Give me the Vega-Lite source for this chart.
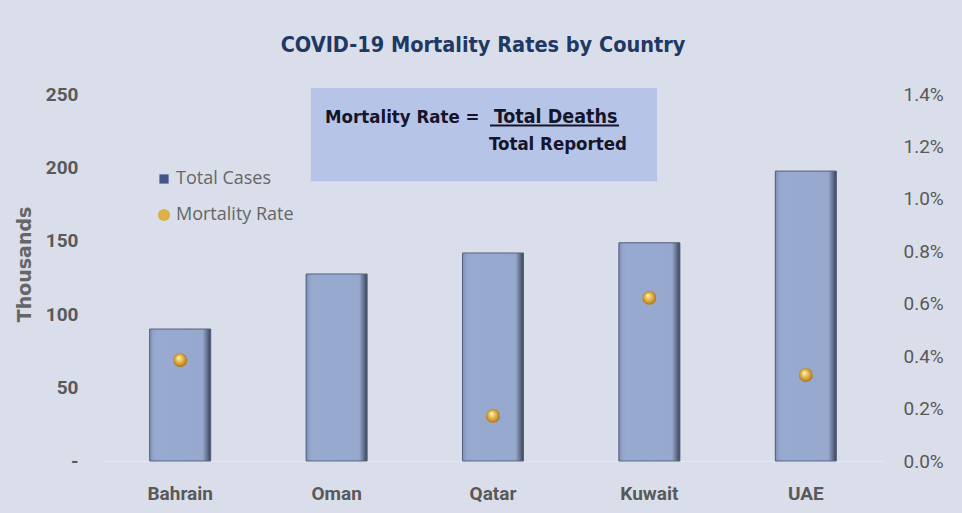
{
  "$schema": "https://vega.github.io/schema/vega-lite/v6.json",
  "width": 782,
  "height": 367,
  "autosize": {"type": "none"},
  "padding": {"left": 102, "top": 94, "right": 78, "bottom": 52},
  "background": "#d9deea",
  "title": {
    "text": "COVID-19 Mortality Rates by Country",
    "font": "DejaVu Sans Condensed, sans-serif",
    "fontSize": 21.5,
    "fontWeight": "bold",
    "color": "#1f3864",
    "anchor": "middle",
    "frame": "group",
    "offset": 29,
    "dx": -10
  },
  "config": {
    "view": {"stroke": null},
    "axis": {"grid": false, "ticks": false, "domain": false}
  },
  "layer": [
    {
      "data": {
        "values": [
          {"country": "Bahrain", "cases": 89900, "rate": 0.00385},
          {"country": "Oman", "cases": 127400, "rate": null},
          {"country": "Qatar", "cases": 141700, "rate": 0.00172},
          {"country": "Kuwait", "cases": 148600, "rate": 0.00622},
          {"country": "UAE", "cases": 197500, "rate": 0.00328}
        ]
      },
      "encoding": {
        "x": {
          "field": "country",
          "type": "nominal",
          "sort": null,
          "scale": {"paddingInner": 0.61, "paddingOuter": 0.305},
          "axis": {
            "title": null,
            "labelAngle": 0,
            "labelFont": "Roboto",
            "labelFontSize": 19,
            "labelFontWeight": "bold",
            "labelColor": "#595959",
            "labelPadding": 23,
            "domain": true,
            "domainColor": "#e4e7ef",
            "domainWidth": 1
          }
        }
      },
      "layer": [
        {
          "encoding": {
            "y": {
              "field": "cases",
              "type": "quantitative",
              "scale": {"domain": [0, 250000]},
              "axis": {
                "values": [0, 50000, 100000, 150000, 200000, 250000],
                "labelExpr": "datum.value == 0 ? '-' : format(datum.value / 1000, 'd')",
                "labelFont": "Roboto",
                "labelFontSize": 19,
                "labelFontWeight": "bold",
                "labelColor": "#595959",
                "labelPadding": 24,
                "title": "Thousands",
                "titleFont": "DejaVu Sans",
                "titleFontSize": 19,
                "titleFontWeight": "bold",
                "titleColor": "#666666",
                "titleX": -78,
                "titleY": 170,
                "titleAngle": 270,
                "titleAlign": "center",
                "titleBaseline": "middle"
              }
            }
          },
          "layer": [
            {
              "mark": {"type": "bar"},
              "encoding": {
                "color": {
                  "datum": "Total Cases",
                  "scale": {"domain": ["Total Cases", "Mortality Rate"], "range": ["#42568a", "#ddb04a"]},
                  "legend": {
                    "title": null,
                    "orient": "none",
                    "legendX": 53,
                    "legendY": 76,
                    "direction": "vertical",
                    "padding": 0,
                    "labelFont": "Open Sans",
                    "labelFontSize": 18,
                    "labelColor": "#666666",
                    "labelOffset": 3,
                    "rowPadding": 18,
                    "symbolStrokeWidth": 0,
                    "encode": {
                      "symbols": {
                        "update": {
                          "shape": {"signal": "datum.value === 'Total Cases' ? 'square' : 'circle'"},
                          "size": {"signal": "datum.value === 'Total Cases' ? 85 : 150"},
                          "fill": {"signal": "datum.value === 'Total Cases' ? '#42568a' : '#ddb04a'"},
                          "opacity": {"value": 1},
                          "strokeWidth": {"value": 0}
                        }
                      }
                    }
                  }
                }
              }
            },
            {
              "mark": {
                "type": "bar",
                "fill": {
                  "gradient": "linear",
                  "x1": 0, "y1": 0, "x2": 1, "y2": 0,
                  "stops": [
                    {"offset": 0, "color": "#7c8db3"},
                    {"offset": 0.06, "color": "#93a5ca"},
                    {"offset": 0.12, "color": "#98aacf"},
                    {"offset": 0.87, "color": "#96a8cd"},
                    {"offset": 0.93, "color": "#6e7b98"},
                    {"offset": 1, "color": "#39435a"}
                  ]
                },
                "stroke": "#56627d",
                "strokeWidth": 1
              }
            }
          ]
        },
        {
          "encoding": {
            "y": {
              "field": "rate",
              "type": "quantitative",
              "scale": {"domain": [0, 0.014]},
              "axis": {
                "orient": "right",
                "title": null,
                "values": [0, 0.002, 0.004, 0.006, 0.008, 0.01, 0.012, 0.014],
                "format": ".1%",
                "labelFont": "Roboto",
                "labelFontSize": 19,
                "labelColor": "#595959",
                "labelPadding": 19
              }
            }
          },
          "layer": [
            {
              "mark": {"type": "point", "filled": true, "shape": "circle", "size": 190, "opacity": 1},
              "encoding": {"color": {"datum": "Mortality Rate"}}
            },
            {
              "mark": {
                "type": "point",
                "filled": true,
                "shape": "circle",
                "size": 190,
                "opacity": 1,
                "fill": {
                  "gradient": "radial",
                  "x1": 0.38, "y1": 0.32, "r1": 0,
                  "x2": 0.5, "y2": 0.5, "r2": 0.55,
                  "stops": [
                    {"offset": 0, "color": "#fff8d8"},
                    {"offset": 0.3, "color": "#f2cf6a"},
                    {"offset": 0.75, "color": "#c8922e"},
                    {"offset": 1, "color": "#8a6220"}
                  ]
                }
              }
            }
          ]
        }
      ],
      "resolve": {"scale": {"y": "independent"}}
    },
    {
      "data": {"values": [{"label": "formula"}]},
      "layer": [
        {
          "mark": {"type": "rect", "color": "#b6c4e7"},
          "encoding": {
            "x": {"datum": 1.336, "type": "quantitative", "scale": {"domain": [0, 5]}, "axis": null},
            "x2": {"datum": 3.549},
            "y": {"datum": 264.3, "type": "quantitative", "scale": {"domain": [0, 250]}, "axis": null},
            "y2": {"datum": 198.2}
          }
        },
        {
          "mark": {"type": "rule", "color": "#15152a", "strokeWidth": 2},
          "encoding": {
            "x": {"datum": 2.481, "type": "quantitative"},
            "x2": {"datum": 3.306},
            "y": {"datum": 237.7, "type": "quantitative"}
          }
        },
        {
          "mark": {"type": "text", "text": "Mortality Rate =", "align": "left", "baseline": "alphabetic", "font": "DejaVu Sans Condensed, sans-serif", "fontSize": 18.5, "fontWeight": "bold", "color": "#15152a"},
          "encoding": {
            "x": {"datum": 1.426, "type": "quantitative"},
            "y": {"datum": 239.8, "type": "quantitative"}
          }
        },
        {
          "mark": {"type": "text", "text": "Total Deaths", "align": "left", "baseline": "alphabetic", "font": "DejaVu Sans Condensed, sans-serif", "fontSize": 19.5, "fontWeight": "bold", "color": "#15152a"},
          "encoding": {
            "x": {"datum": 2.506, "type": "quantitative"},
            "y": {"datum": 239.8, "type": "quantitative"}
          }
        },
        {
          "mark": {"type": "text", "text": "Total Reported", "align": "left", "baseline": "alphabetic", "font": "DejaVu Sans Condensed, sans-serif", "fontSize": 18.5, "fontWeight": "bold", "color": "#15152a"},
          "encoding": {
            "x": {"datum": 2.475, "type": "quantitative"},
            "y": {"datum": 220.0, "type": "quantitative"}
          }
        }
      ]
    }
  ],
  "resolve": {"scale": {"x": "independent", "y": "independent"}}
}
